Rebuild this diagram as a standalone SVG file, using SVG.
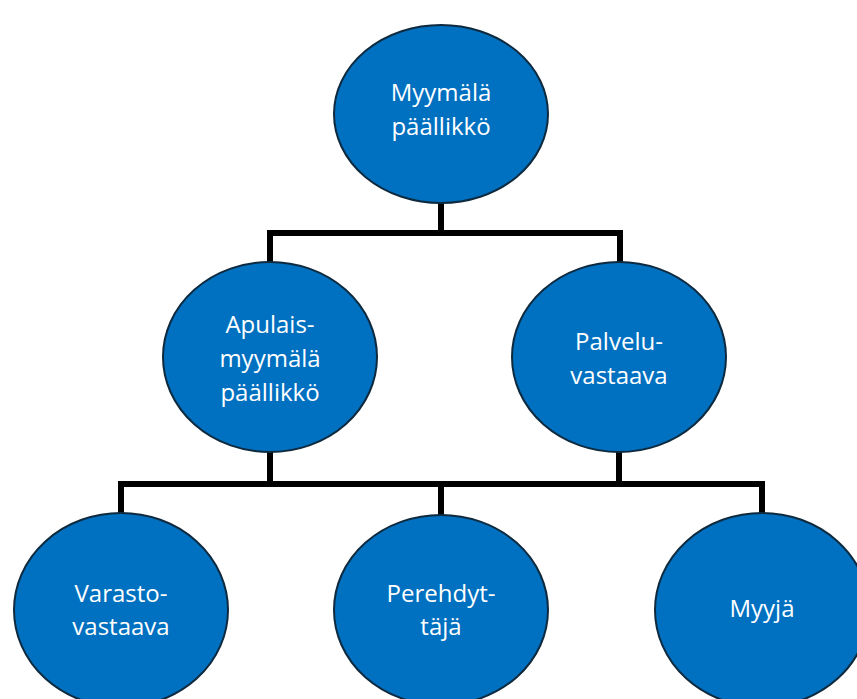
<svg xmlns="http://www.w3.org/2000/svg" width="857" height="699" viewBox="0 0 857 699">
<style>
.n{fill:#0070C0;stroke:#0e2a3f;stroke-width:2}
.t{fill:#ffffff;font-family:"Open Sans","Noto Sans",sans-serif;font-size:24px;text-anchor:middle}
.c{fill:none;stroke:#000000;stroke-width:6;stroke-linejoin:miter}
</style>
<rect width="857" height="699" fill="#ffffff"/>
<g id="connectors">
<path class="c" d="M441,203 V233 M270,263 V233 H620 V263"/>
<path class="c" d="M270,452 V484 M619,452 V484 M121,513 V484 H762 V513 M441,484 V516"/>
</g>
<g id="n1"><ellipse class="n" cx="441" cy="114" rx="107" ry="89"/>
<text class="t" x="441" y="101">Myymälä</text><text class="t" x="441" y="135">päällikkö</text></g>
<g id="n2"><ellipse class="n" cx="270" cy="357" rx="107" ry="95"/>
<text class="t" x="270" y="333">Apulais-</text><text class="t" x="270" y="367">myymälä</text><text class="t" x="270" y="401">päällikkö</text></g>
<g id="n3"><ellipse class="n" cx="619" cy="357" rx="107" ry="95"/>
<text class="t" x="619" y="350">Palvelu-</text><text class="t" x="619" y="384">vastaava</text></g>
<g id="n4"><ellipse class="n" cx="121" cy="610" rx="107" ry="97"/>
<text class="t" x="121" y="602">Varasto-</text><text class="t" x="121" y="635">vastaava</text></g>
<g id="n5"><ellipse class="n" cx="441" cy="610" rx="107" ry="95"/>
<text class="t" x="441" y="602">Perehdyt-</text><text class="t" x="441" y="635">täjä</text></g>
<g id="n6"><ellipse class="n" cx="762" cy="610" rx="107" ry="97"/>
<text class="t" x="762" y="617">Myyjä</text></g>
</svg>
